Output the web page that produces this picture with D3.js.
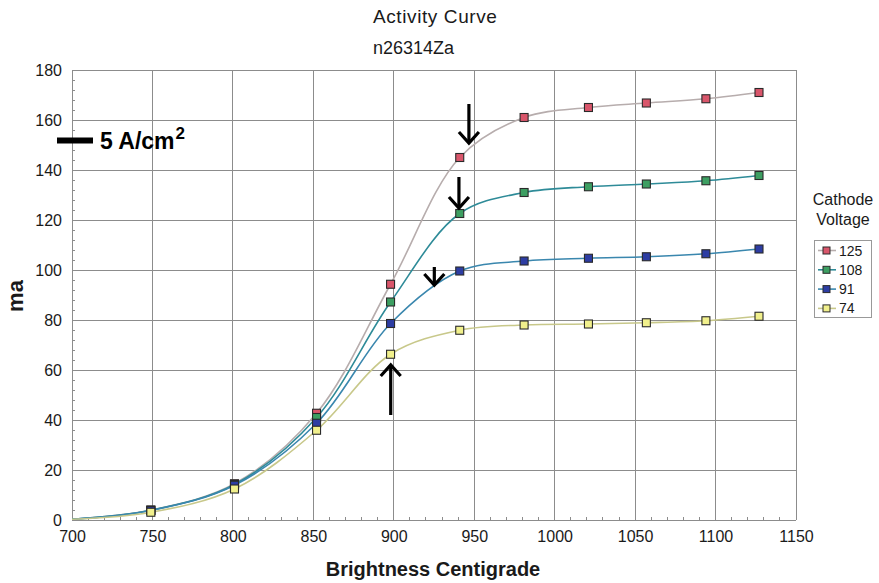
<!DOCTYPE html>
<html>
<head>
<meta charset="utf-8">
<script src="https://cdn.jsdelivr.net/npm/d3@7"></script>
<style>
  html, body { margin: 0; padding: 0; background: #fff; }
  svg { display: block; font-family: "Liberation Sans", Arial, Helvetica, sans-serif; }
</style>
</head>
<body>
<svg id="chart" width="879" height="583"></svg>
<script>
// Brightness temperature (°C) at each measurement
const temps = [700, 749, 801, 852, 898, 941, 981, 1021, 1057, 1094, 1127];
// first point (700 °C) is the curve origin only, no marker
const markerFrom = 1;

// Cathode current (ma) for each cathode voltage
const series125 = [0.3, 4.0, 14.5, 42.7, 94.3, 145.0, 161.0, 165.0, 166.8, 168.5, 171.0];
const series108 = [0.3, 3.9, 14.2, 41.0, 87.2, 122.6, 131.0, 133.3, 134.4, 135.7, 137.8];
const series91  = [0.3, 3.8, 13.9, 38.7, 78.6, 99.6, 103.6, 104.7, 105.3, 106.5, 108.4];
const series74  = [0.3, 3.1, 12.4, 35.9, 66.3, 75.9, 78.0, 78.4, 78.9, 79.7, 81.5];

const voltages = ["125", "108", "91", "74"];
const xTicks = [700, 750, 800, 850, 900, 950, 1000, 1050, 1100, 1150];
const yTicks = [0, 20, 40, 60, 80, 100, 120, 140, 160, 180];

// arrows marking the knee of each curve: [x, yFrom, yTo]
const arrows = [
  [946.7, 166.4, 150.8],
  [940.5, 137.2, 124.8],
  [925.2, 101.2, 94.0],
  [898.1, 42.0, 62.0]
];
const densityMark = { y: 151.8, label: "5 A/cm" };

const styles = {
  "125": { line: "#b7adad", fill: "#d9566b" },
  "108": { line: "#2e8b98", fill: "#3d9f62" },
  "91":  { line: "#3a87ae", fill: "#2d3da3" },
  "74":  { line: "#c8c88a", fill: "#f1f08c" }
};

const svg = d3.select("#chart");
const plotL = 72, plotR = 796, plotT = 70, plotB = 520;

const x = d3.scaleLinear().domain([700, 1150]).range([plotL, plotR]);
const y = d3.scaleLinear().domain([0, 180]).range([plotB, plotT]);

const seriesData = [series125, series108, series91, series74].map((vals, i) => ({
  key: voltages[i],
  points: temps.map((t, j) => ({ t, v: vals[j], j }))
}));

// grid
const grid = svg.append("g").attr("stroke", "#8c8c8c").attr("stroke-width", 1).attr("shape-rendering", "crispEdges");
grid.selectAll(".gx").data(xTicks).join("line")
  .attr("x1", d => x(d)).attr("x2", d => x(d)).attr("y1", plotT).attr("y2", plotB);
grid.selectAll(".gy").data(yTicks).join("line")
  .attr("x1", plotL).attr("x2", plotR).attr("y1", d => y(d)).attr("y2", d => y(d));

// minor ticks pointing into the plot
const minorX = d3.range(700, 1150, 10).filter(d => d % 50 !== 0);
const minorY = d3.range(0, 180, 4).filter(d => d % 20 !== 0);
const minor = svg.append("g").attr("stroke", "#8c8c8c").attr("shape-rendering", "crispEdges");
minor.selectAll(".mx").data(minorX).join("line")
  .attr("x1", d => x(d)).attr("x2", d => x(d)).attr("y1", plotB).attr("y2", plotB - 3);
minor.selectAll(".my").data(minorY).join("line")
  .attr("x1", plotL).attr("x2", plotL + 3).attr("y1", d => y(d)).attr("y2", d => y(d));

// axes labels
const xAxis = d3.axisBottom(x).tickValues(xTicks).tickFormat(d3.format("d")).tickSize(0).tickPadding(8);
svg.append("g").attr("transform", `translate(0,${plotB})`).call(xAxis)
  .call(g => g.select(".domain").remove())
  .selectAll("text").attr("font-size", 16).attr("fill", "#1a1a1a").attr("dy", "0.9em")
  .style("font-family", "'Liberation Sans', Arial, sans-serif");

const yAxis = d3.axisLeft(y).tickValues(yTicks).tickFormat(d3.format("d")).tickSize(0).tickPadding(10);
svg.append("g").attr("transform", `translate(${plotL},0)`).call(yAxis)
  .call(g => g.select(".domain").remove())
  .selectAll("text").attr("font-size", 16).attr("fill", "#1a1a1a")
  .style("font-family", "'Liberation Sans', Arial, sans-serif");

// curves
const line = d3.line()
  .x(d => x(d.t)).y(d => y(d.v))
  .curve(d3.curveCatmullRom.alpha(0.5));

svg.append("g").selectAll("path").data(seriesData).join("path")
  .attr("d", d => line(d.points))
  .attr("fill", "none")
  .attr("stroke", d => styles[d.key].line)
  .attr("stroke-width", 1.6);

// markers
const ms = 8;
svg.append("g").selectAll("g").data(seriesData).join("g")
  .each(function (s) {
    d3.select(this).selectAll("rect").data(s.points.filter(p => p.j >= markerFrom)).join("rect")
      .attr("x", p => x(p.t) - ms / 2).attr("y", p => y(p.v) - ms / 2)
      .attr("width", ms).attr("height", ms)
      .attr("fill", styles[s.key].fill)
      .attr("stroke", "#2a2a2a").attr("stroke-width", 1.1);
  });

// knee arrows
const arrowG = svg.append("g").attr("stroke", "#000").attr("fill", "none")
  .attr("stroke-width", 3.2).attr("stroke-linecap", "butt");
arrows.forEach(([ax, y0, y1]) => {
  const px = x(ax), p0 = y(y0), p1 = y(y1);
  const dir = p1 > p0 ? 1 : -1;
  arrowG.append("line").attr("x1", px).attr("x2", px).attr("y1", p0).attr("y2", p1 - dir * 1);
  arrowG.append("path")
    .attr("d", `M${px - 10},${p1 - dir * 11}L${px},${p1}L${px + 10},${p1 - dir * 11}`)
    .attr("stroke-linejoin", "miter");
});

// current density scale mark
const dmY = y(densityMark.y);
svg.append("rect").attr("x", 57).attr("y", dmY - 3).attr("width", 36).attr("height", 6).attr("fill", "#000");
const dm = svg.append("text").attr("x", 100).attr("y", dmY + 8)
  .attr("font-size", 23).attr("font-weight", "bold").attr("fill", "#000");
dm.append("tspan").text(densityMark.label);
dm.append("tspan").attr("font-size", 17).attr("dy", -10).attr("dx", 1).text("2");

// titles
svg.append("text").attr("x", 373).attr("y", 23).attr("font-size", 19).attr("fill", "#1a1a1a")
  .attr("letter-spacing", 0.6).text("Activity Curve");
svg.append("text").attr("x", 373).attr("y", 54).attr("font-size", 18).attr("fill", "#1a1a1a")
  .text("n26314Za");

svg.append("text").attr("x", 433).attr("y", 576).attr("text-anchor", "middle")
  .attr("font-size", 20).attr("font-weight", "bold").attr("fill", "#1a1a1a")
  .text("Brightness Centigrade");
svg.append("text").attr("transform", "translate(23,296) rotate(-90)").attr("text-anchor", "middle")
  .attr("font-size", 22).attr("font-weight", "bold").attr("fill", "#1a1a1a")
  .text("ma");

// legend
const lg = svg.append("g");
lg.append("text").attr("x", 843).attr("y", 205).attr("text-anchor", "middle")
  .attr("font-size", 16).attr("fill", "#1a1a1a").text("Cathode");
lg.append("text").attr("x", 843).attr("y", 225).attr("text-anchor", "middle")
  .attr("font-size", 16).attr("fill", "#1a1a1a").text("Voltage");
lg.append("rect").attr("x", 814.5).attr("y", 240.5).attr("width", 57).attr("height", 77)
  .attr("fill", "#fff").attr("stroke", "#999");
voltages.forEach((k, i) => {
  const ly = 250.5 + i * 19.3;
  lg.append("line").attr("x1", 818).attr("x2", 836).attr("y1", ly).attr("y2", ly)
    .attr("stroke", styles[k].line).attr("stroke-width", 1.6);
  lg.append("rect").attr("x", 823).attr("y", ly - 3.5).attr("width", 7).attr("height", 7)
    .attr("fill", styles[k].fill).attr("stroke", "#2a2a2a");
  lg.append("text").attr("x", 839).attr("y", ly + 5).attr("font-size", 14).attr("fill", "#1a1a1a").text(k);
});
</script>
</body>
</html>
